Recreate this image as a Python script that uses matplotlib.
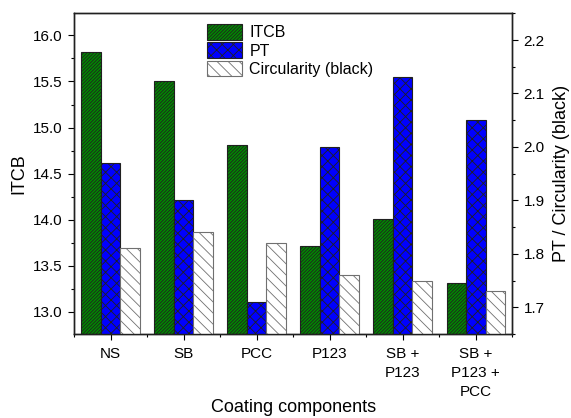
import numpy as np
import matplotlib
matplotlib.use('Agg')
import matplotlib.pyplot as plt
from matplotlib.ticker import MultipleLocator, FixedLocator

plt.rcParams['font.family'] = ['Liberation Sans', 'DejaVu Sans']
plt.rcParams['hatch.linewidth'] = 0.6

categories = ['NS', 'SB', 'PCC', 'P123', 'SB +\nP123', 'SB +\nP123 +\nPCC']
itcb = [15.82, 15.51, 14.81, 13.71, 14.01, 13.31]
pt = [1.97, 1.90, 1.71, 2.00, 2.13, 2.05]
circ = [1.81, 1.84, 1.82, 1.76, 1.75, 1.73]

x = np.arange(len(categories))
w = 0.267

fig = plt.figure(figsize=(5.71, 4.18), dpi=100)
ax = fig.add_axes([0.1296, 0.201, 0.7676, 0.7672])
ax2 = ax.twinx()

b1 = ax.bar(x - w, itcb, w, color='#008a00', edgecolor='#202020', hatch='/' * 10, linewidth=0.8, label='ITCB')
b2 = ax2.bar(x, pt, w, color='#0000ff', edgecolor='#202020', hatch='xxx', linewidth=0.8, label='PT')
b3 = ax2.bar(x + w, circ, w, color='white', edgecolor='#707070', hatch='\\' * 3, linewidth=0.8, label='Circularity (black)')

ax.set_xlim(-0.5, 5.5)
ax.set_ylim(12.76, 16.24)
ax2.set_ylim(1.65, 2.25)

ax.set_xticks(x)
ax.set_xticklabels(categories, fontsize=11, linespacing=1.45)
ax.xaxis.set_minor_locator(FixedLocator(np.arange(-0.5, 6, 1)))
ax.yaxis.set_major_locator(MultipleLocator(0.5))
ax.yaxis.set_minor_locator(MultipleLocator(0.25))
ax2.yaxis.set_major_locator(MultipleLocator(0.1))
ax2.yaxis.set_minor_locator(MultipleLocator(0.05))
ax.yaxis.set_major_formatter(plt.FormatStrFormatter('%.1f'))
ax2.yaxis.set_major_formatter(plt.FormatStrFormatter('%.1f'))

for a in [ax, ax2]:
    a.tick_params(which='major', length=4.5, width=0.8, labelsize=11)
    a.tick_params(which='minor', length=2.5, width=0.8)
    for s in a.spines.values():
        s.set_linewidth(1.0)
        s.set_color('#202020')
ax.tick_params(axis='x', which='major', pad=5)

ax.set_ylabel('ITCB', fontsize=13, labelpad=4)
ax2.set_ylabel('PT / Circularity (black)', fontsize=13, labelpad=6)
ax.set_xlabel('Coating components', fontsize=13, labelpad=0)

fig.legend(handles=[b1, b2, b3], loc='upper left', bbox_to_anchor=(207/571, 1 - 24/418),
           frameon=False, fontsize=11.5, handlelength=2.2, handleheight=1.15,
           labelspacing=0.12, handletextpad=0.45, borderpad=0, borderaxespad=0)

fig.savefig('out.png', dpi=100)
